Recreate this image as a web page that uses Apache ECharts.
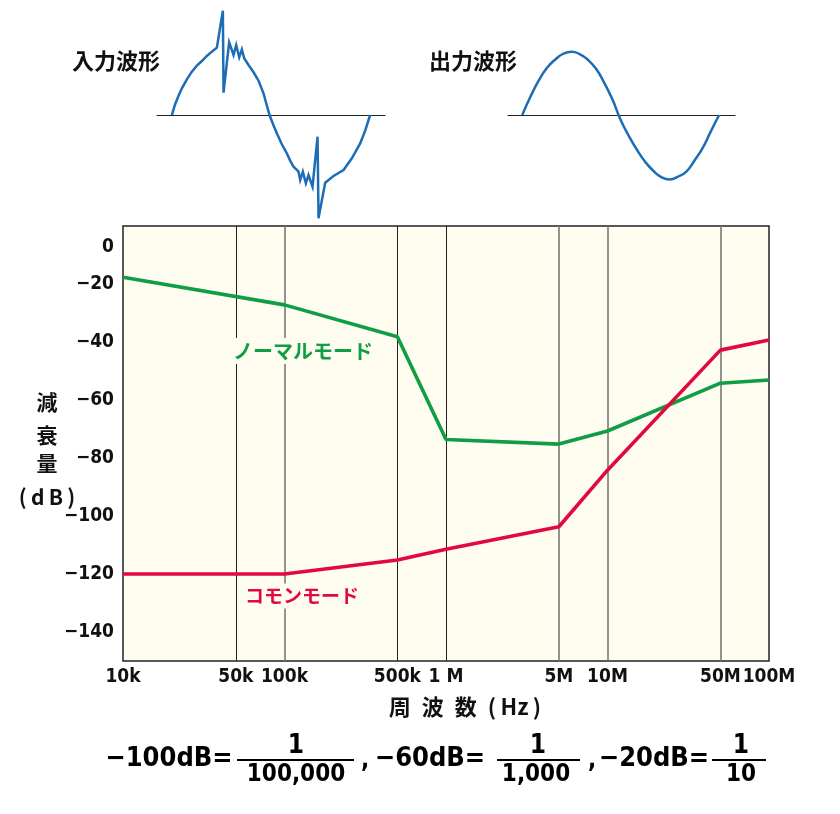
<!DOCTYPE html>
<html><head><meta charset="utf-8">
<script src="https://cdn.jsdelivr.net/npm/echarts@6/dist/echarts.min.js"></script>
<style>html,body{margin:0;padding:0;background:#fff}#c{width:840px;height:814px}</style>
</head><body><div id="c"></div>
<script>
// ---- data ----
const freqHz = [1e4, 1e5, 5e5, 1e6, 5e6, 1e7, 5e7, 1e8];
const normalMode = [-17.7, -27.2, -38.2, -73.6, -75.2, -70.7, -54.2, -53.1];
const commonMode = [-120, -120, -115.2, -111.5, -103.7, -84.2, -42.8, -39.3];
const darkGridFreqs = [5e4, 5e5, 1e6];
const greyGridFreqs = [1e5, 5e6, 1e7, 5e7];
const tickFreqs = [1e4, 5e4, 1e5, 5e5, 1e6, 5e6, 1e7, 5e7, 1e8];
const tickLabels = ['10k', '50k', '100k', '500k', '1 M', '5M', '10M', '50M', '100M'];
const yTicks = [0, -20, -40, -60, -80, -100, -120, -140];
// waveforms: phase (deg), amplitude (relative)
const inPhase = [0, 3.0, 6.1, 12.1, 18.2, 27.2, 36.3, 45.4, 54.5, 63.5, 72.6, 81.7, 92.6, 93.8, 104, 112, 116.8, 122.3, 127.1, 131.3,
  139.2, 148.3, 157.4, 166.4, 177.3,
  184.3, 190.6, 199.4, 208.8, 214.8, 220.9, 230, 233, 237.8, 243.3, 248.1, 255.4, 264.5, 266.3, 278.4,
  293.5, 311.7, 326.8, 341.9, 351, 360];
const inAmp = [0, 0.081, 0.157, 0.276, 0.381, 0.51, 0.619, 0.705, 0.771, 0.843, 0.905, 0.962, 1.49, 0.319, 1.038, 0.857, 1.0, 0.824, 0.938, 0.81,
  0.714, 0.61, 0.49, 0.31, 0,
  -0.143, -0.262, -0.414, -0.548, -0.652, -0.738, -0.81, -0.929, -0.81, -0.976, -0.857, -1.024, -0.31, -1.476, -0.967,
  -0.871, -0.786, -0.619, -0.405, -0.224, 0];
const outPhase = [0, 15, 30, 45, 60, 75, 90, 105, 120, 135, 150, 165, 180, 195, 210, 225, 240, 255, 270, 285, 300, 315, 330, 345, 360];
const outAmp = [0, 0.26, 0.49, 0.67, 0.79, 0.875, 0.905, 0.87, 0.79, 0.66, 0.46, 0.22, -0.07, -0.30, -0.50, -0.67, -0.80, -0.89, -0.92, -0.88, -0.81, -0.65, -0.47, -0.23, 0];

const NARROW = '"DejaVu Sans Condensed", "DejaVu Sans", sans-serif';
const CJK = '"Noto Sans CJK JP", sans-serif';
const GREEN = '#0F9D45', RED = '#E2093F', BLUE = '#1D6DB6', CREAM = '#FFFDEF';
const lg = f => Math.log10(f);
const zip = (a, b) => a.map((v, i) => [v, b[i]]);

const chart = echarts.init(document.getElementById('c'));

function txt(text, x, y, font, fill, extra) {
  return { type: 'text', x: x, y: y, z: 100,
    style: Object.assign({ text: text, font: font, fill: fill, align: 'center', verticalAlign: 'middle' }, extra || {}) };
}
function hline(x1, x2, y) {
  return { type: 'line', z: 100, shape: { x1: x1, y1: y, x2: x2, y2: y }, style: { stroke: '#000', lineWidth: 2 } };
}
function gridLines(freqs, color, width) {
  return { type: 'line', xAxisIndex: 0, yAxisIndex: 0, data: [], z: 1, silent: true,
    markLine: { silent: true, symbol: ['none', 'none'], label: { show: false }, animation: false,
      lineStyle: { color: color, width: width, type: 'solid' },
      data: freqs.map(f => ({ xAxis: lg(f) })) } };
}
const FM = 'bold 27px ' + NARROW, FN = 'bold 26px ' + NARROW, FD = 'bold 24px ' + NARROW;
const NUMY = 746, LINEY = 760, DENY = 775, MAINY = 759;
const YN = 'bold 21px ' + CJK;

const option = {
  backgroundColor: '#fff',
  animation: false,
  grid: [
    { left: 123, top: 226, width: 646, height: 435, show: true, backgroundColor: CREAM, borderColor: '#222', borderWidth: 1.5 },
    { left: 157, top: 10, width: 228, height: 210 },
    { left: 508, top: 10, width: 227, height: 210 }
  ],
  xAxis: [
    { type: 'value', gridIndex: 0, min: 4, max: 8,
      axisLine: { show: false }, axisTick: { show: false }, splitLine: { show: false },
      axisLabel: { customValues: tickFreqs.map(lg), margin: 7, color: '#111', fontFamily: NARROW, fontWeight: 'bold', fontSize: 19,
        showMinLabel: true, showMaxLabel: true, hideOverlap: false,
        formatter: v => { const i = tickFreqs.findIndex(f => Math.abs(lg(f) - v) < 1e-6); return i >= 0 ? tickLabels[i] : ''; } },
      name: '周\u2002波\u2002数\u2002(\u2009Hz\u2009)', nameLocation: 'middle', nameGap: 46,
      nameTextStyle: { color: '#111', fontFamily: CJK, fontWeight: 'bold', fontSize: 22, verticalAlign: 'middle', padding: [0, 0, 0, 38] } },
    { type: 'value', gridIndex: 1, min: -27, max: 387,
      axisLine: { show: true, onZero: true, lineStyle: { color: '#222', width: 1.2 } }, axisTick: { show: false }, axisLabel: { show: false }, splitLine: { show: false } },
    { type: 'value', gridIndex: 2, min: -26, max: 389,
      axisLine: { show: true, onZero: true, lineStyle: { color: '#222', width: 1.2 } }, axisTick: { show: false }, axisLabel: { show: false }, splitLine: { show: false } }
  ],
  yAxis: [
    { type: 'value', gridIndex: 0, min: -150, max: 0,
      axisLine: { show: false }, axisTick: { show: false }, splitLine: { show: false },
      axisLabel: { customValues: yTicks, margin: 9, color: '#111', fontFamily: NARROW, fontWeight: 'bold', fontSize: 19,
        showMinLabel: true, showMaxLabel: true, hideOverlap: false,
        formatter: v => v === 0 ? '{z|0}' : '{n|\u2212' + Math.abs(v) + '}',
        rich: { z: { padding: [42, 0, 0, 0], color: '#111', fontFamily: NARROW, fontWeight: 'bold', fontSize: 19 },
                n: { color: '#111', fontFamily: NARROW, fontWeight: 'bold', fontSize: 19 } } } },
    { type: 'value', gridIndex: 1, min: -1.5, max: 1.5, show: false },
    { type: 'value', gridIndex: 2, min: -1.5, max: 1.5, show: false }
  ],
  series: [
    gridLines(darkGridFreqs, '#222', 1),
    gridLines(greyGridFreqs, '#777', 1.6),
    { type: 'line', name: 'ノーマルモード', xAxisIndex: 0, yAxisIndex: 0, data: zip(freqHz.map(lg), normalMode),
      symbol: 'none', lineStyle: { color: GREEN, width: 3.6 }, z: 5 },
    { type: 'line', name: 'コモンモード', xAxisIndex: 0, yAxisIndex: 0, data: zip(freqHz.map(lg), commonMode),
      symbol: 'none', lineStyle: { color: RED, width: 3.6 }, z: 5 },
    { type: 'line', name: '入力波形', xAxisIndex: 1, yAxisIndex: 1, data: zip(inPhase, inAmp),
      symbol: 'none', lineStyle: { color: BLUE, width: 2.5, join: 'miter' }, z: 5 },
    { type: 'line', name: '出力波形', xAxisIndex: 2, yAxisIndex: 2, data: zip(outPhase, outAmp), smooth: true,
      symbol: 'none', lineStyle: { color: BLUE, width: 2.5 }, z: 5 }
  ],
  graphic: [
    txt('入力波形', 116, 61, 'bold 22px ' + CJK, '#111'),
    txt('出力波形', 473, 61, 'bold 22px ' + CJK, '#111'),
    txt('減', 47, 402, YN, '#111'),
    txt('衰', 47, 435, YN, '#111'),
    txt('量', 47, 463, YN, '#111'),
    txt('(\u2009d\u2009B\u2009)', 47, 497, YN, '#111'),
    txt('ノーマルモード', 303, 351, 'bold 20px ' + CJK, GREEN, { backgroundColor: CREAM, padding: [3, 2, 3, 2] }),
    txt('コモンモード', 302, 596, 'bold 19px ' + CJK, RED, { backgroundColor: CREAM, padding: [3, 2, 3, 2] }),
    txt('\u2212100dB=', 169, MAINY, FM, '#000'),
    txt('1', 296, NUMY, FN, '#000'), hline(237, 354, LINEY), txt('100,000', 296, DENY, FD, '#000'),
    txt(',', 365, MAINY + 2, FD, '#000'),
    txt('\u221260dB=', 430, MAINY, FM, '#000'),
    txt('1', 538, NUMY, FN, '#000'), hline(497, 580, LINEY), txt('1,000', 536, DENY, FD, '#000'),
    txt(',', 592, MAINY + 2, FD, '#000'),
    txt('\u221220dB=', 654, MAINY, FM, '#000'),
    txt('1', 741, NUMY, FN, '#000'), hline(712, 766, LINEY), txt('10', 741, DENY, FD, '#000')
  ]
};
chart.setOption(option);
</script>
</body></html>
